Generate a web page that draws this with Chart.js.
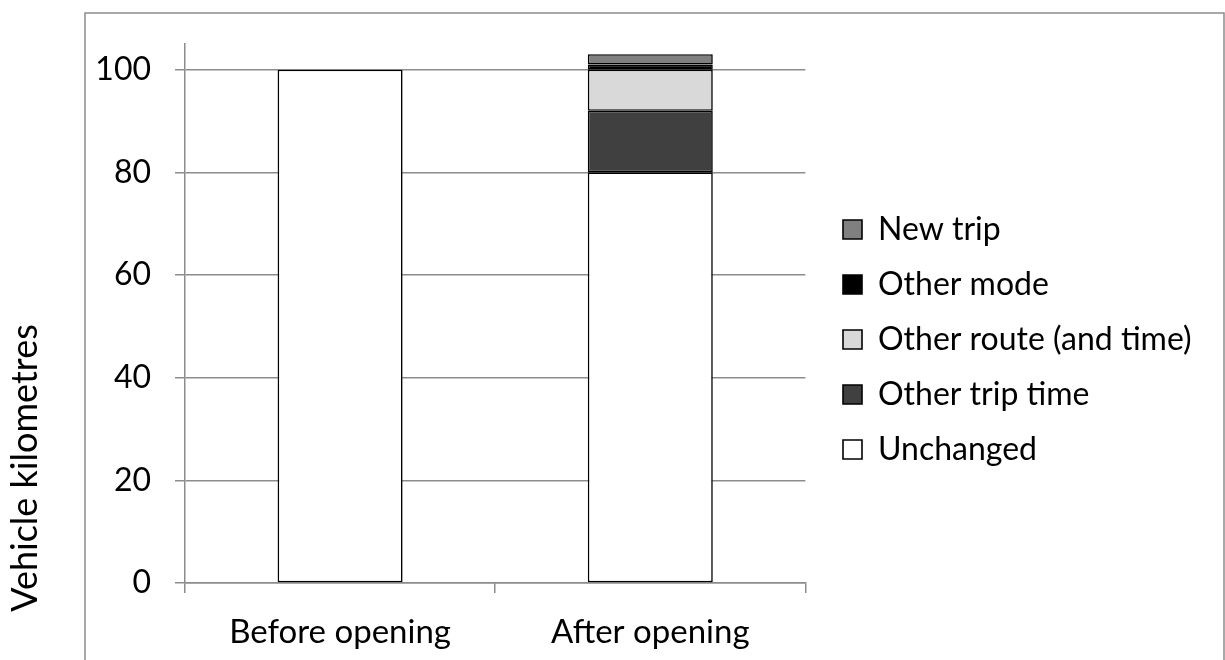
<!DOCTYPE html>
<html>
<head>
<meta charset="utf-8">
<script src="https://cdn.jsdelivr.net/npm/chart.js@4/dist/chart.umd.min.js"></script>
<style>
  html, body { margin: 0; padding: 0; background: #ffffff; }
  #wrap { position: relative; width: 1225px; height: 660px; }
  canvas { display: block; }
</style>
</head>
<body>
<div id="wrap"><canvas id="c" width="1225" height="660"></canvas></div>
<script>
// ---- data ----
const categories = ['Before opening', 'After opening'];
const unchanged = [100, 80];
const otherTripTime = [0, 12];
const otherRoute = [0, 8];
const otherMode = [0, 1];
const newTrip = [0, 2];
const yTicks = [0, 20, 40, 60, 80, 100];
const yTitle = 'Vehicle kilometres';

const GRID = '#8c8c8c';
const FONT = 'Lato';
const LEG_SIZE = 32, LEG_PAD = 23, LEG_BOX = 19;
const PLOT_RIGHT = 805;

const framePlugin = {
  id: 'frame',
  beforeDraw(chart) {
    const ctx = chart.ctx;
    ctx.save();
    ctx.strokeStyle = GRID;
    ctx.lineWidth = 1.5;
    ctx.beginPath();
    ctx.moveTo(85, 700);
    ctx.lineTo(85, 13);
    ctx.lineTo(1224, 13);
    ctx.lineTo(1224, 700);
    ctx.stroke();
    ctx.restore();
  }
};

const yTitlePlugin = {
  id: 'yTitle',
  afterDraw(chart) {
    const ctx = chart.ctx;
    ctx.save();
    ctx.translate(37, 468);
    ctx.rotate(-Math.PI / 2);
    ctx.font = '36px ' + FONT;
    ctx.fillStyle = '#000000';
    ctx.textAlign = 'center';
    ctx.textBaseline = 'alphabetic';
    ctx.fillText(yTitle, 0, 0);
    ctx.restore();
  }
};

const legendShift = {
  id: 'legendShift',
  afterLayout(chart) {
    const lg = chart.legend;
    if (!lg) return;
    const dx = 843 - (lg.left + LEG_PAD), dy = 26;
    lg.left += dx; lg.right += dx;
    lg.top += dy; lg.bottom += dy;
  }
};

function mk(label, data, color) {
  return {
    label, data,
    backgroundColor: color,
    borderColor: '#000000',
    borderWidth: 1.6,
    borderSkipped: false,
    categoryPercentage: 1.0,
    barPercentage: 0.403
  };
}

function build() {
  const datasets = [
    mk('Unchanged', unchanged, '#ffffff'),
    mk('Other trip time', otherTripTime, '#404040'),
    mk('Other route (and time)', otherRoute, '#d9d9d9'),
    mk('Other mode', otherMode, '#000000'),
    mk('New trip', newTrip, '#808080')
  ];
  // legend width so that the plot ends at PLOT_RIGHT
  const mctx = document.createElement('canvas').getContext('2d');
  mctx.font = LEG_SIZE + 'px ' + FONT;
  let maxW = 0;
  datasets.forEach(d => { maxW = Math.max(maxW, mctx.measureText(d.label).width); });
  const legendW = Math.ceil(LEG_PAD + LEG_BOX + LEG_SIZE / 2 + maxW + 10);
  const padRight = Math.max(0, 1225 - PLOT_RIGHT - legendW);

  new Chart(document.getElementById('c'), {
    type: 'bar',
    data: { labels: categories, datasets },
    options: {
      responsive: false,
      animation: false,
      layout: { padding: { top: 44, left: 0, bottom: 0, right: padRight } },
      plugins: {
        tooltip: { enabled: false },
        legend: {
          position: 'right',
          fullSize: false,
          maxWidth: legendW,
          reverse: true,
          align: 'center',
          labels: {
            color: '#000000',
            font: { family: FONT, size: LEG_SIZE },
            boxWidth: LEG_BOX,
            boxHeight: LEG_BOX,
            padding: LEG_PAD
          }
        }
      },
      scales: {
        x: {
          stacked: true,
          afterFit(s) { s.height = 77; },
          grid: {
            offset: true,
            drawOnChartArea: false,
            drawTicks: true,
            tickLength: 10,
            color: GRID,
            lineWidth: 1.5
          },
          border: { display: true, color: GRID, width: 1.5 },
          ticks: {
            color: '#000000',
            font: { family: FONT, size: 33 },
            padding: 20,
            maxRotation: 0
          }
        },
        y: {
          stacked: true,
          min: 0,
          max: 105,
          afterFit(s) { s.width = 185; },
          afterBuildTicks(s) { s.ticks = yTicks.map(v => ({ value: v })); },
          grid: {
            color: GRID,
            lineWidth: 1.5,
            drawTicks: true,
            tickLength: 10
          },
          border: { display: true, color: GRID, width: 1.5 },
          ticks: {
            color: '#000000',
            font: { family: FONT, size: 32 },
            padding: 24,
            includeBounds: false
          }
        }
      }
    },
    plugins: [framePlugin, legendShift, yTitlePlugin]
  });
}

Promise.all([
  document.fonts.load('32px Lato'),
  document.fonts.load('36px Lato')
]).then(build, build);
</script>
</body>
</html>
